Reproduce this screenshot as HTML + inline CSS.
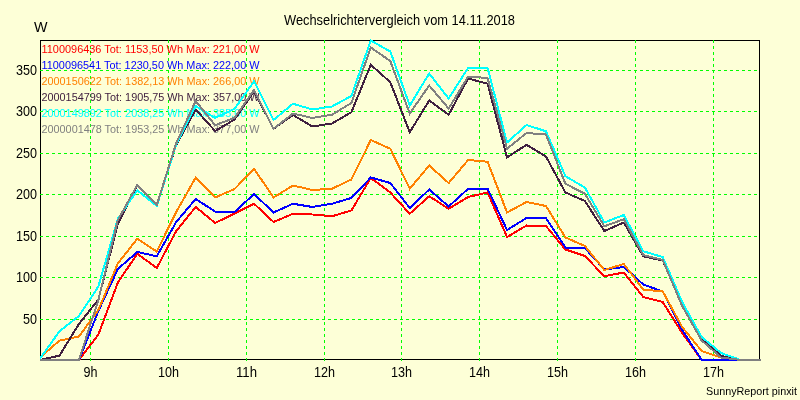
<!DOCTYPE html>
<html><head><meta charset="utf-8"><style>
html,body{margin:0;padding:0;background:#fdffd7;width:800px;height:400px;overflow:hidden}
svg{display:block;will-change:transform}
text{font-family:"Liberation Sans",sans-serif}
</style></head><body>
<svg width="800" height="400" viewBox="0 0 800 400">
<rect x="0" y="0" width="800" height="400" fill="#fdffd7"/>
<g shape-rendering="crispEdges" fill="none" stroke="#000" stroke-width="1">
<path d="M40.5 40V360 M759.5 40V360 M40 40.5H760 M40 359.5H760"/>
</g>
<g shape-rendering="crispEdges" fill="none" stroke="#00ff00" stroke-width="1" stroke-dasharray="3 3">
<path d="M40 70.5H760"/>
<path d="M40 111.5H760"/>
<path d="M40 153.5H760"/>
<path d="M40 194.5H760"/>
<path d="M40 236.5H760"/>
<path d="M40 277.5H760"/>
<path d="M40 319.5H760"/>
<path d="M90.5 40V361"/>
<path d="M168.5 40V361"/>
<path d="M246.5 40V361"/>
<path d="M324.5 40V361"/>
<path d="M401.5 40V361"/>
<path d="M479.5 40V361"/>
<path d="M557.5 40V361"/>
<path d="M635.5 40V361"/>
<path d="M713.5 40V361"/>
</g>
<g font-family="Liberation Sans" font-size="11px">
<text x="41.5" y="53" fill="#ff0000" textLength="218" lengthAdjust="spacingAndGlyphs">1100096436 Tot: 1153,50 Wh Max: 221,00 W</text>
<text x="41.5" y="69" fill="#0000ff" textLength="218" lengthAdjust="spacingAndGlyphs">1100096541 Tot: 1230,50 Wh Max: 222,00 W</text>
<text x="41.5" y="85" fill="#ff8000" textLength="218" lengthAdjust="spacingAndGlyphs">2000150622 Tot: 1382,13 Wh Max: 266,00 W</text>
<text x="41.5" y="101" fill="#402040" textLength="218" lengthAdjust="spacingAndGlyphs">2000154799 Tot: 1905,75 Wh Max: 357,00 W</text>
<text x="41.5" y="117" fill="#00ffff" textLength="218" lengthAdjust="spacingAndGlyphs">2000149892 Tot: 2038,25 Wh Max: 385,00 W</text>
<text x="41.5" y="133" fill="#808080" textLength="218" lengthAdjust="spacingAndGlyphs">2000001478 Tot: 1953,25 Wh Max: 377,00 W</text>
</g>
<g fill="none" stroke-width="2" stroke-linejoin="miter" stroke-linecap="butt" shape-rendering="crispEdges">
<polyline stroke="#ff0000" points="40.00,360.00 59.46,360.00 78.92,360.00 98.38,334.50 117.84,282.50 137.30,253.75 156.76,268.00 176.22,231.00 195.68,207.00 215.14,223.00 234.60,213.50 254.06,203.75 273.52,222.00 292.98,213.75 312.44,214.50 331.90,216.25 351.36,210.50 370.82,178.00 390.28,192.50 409.74,213.75 429.20,196.25 448.66,208.75 468.12,197.00 487.58,192.50 507.04,237.00 526.50,225.50 545.96,226.00 565.42,249.50 584.88,256.00 604.34,276.25 623.80,272.50 643.26,297.00 662.72,302.00 682.18,333.00 701.64,360.00 721.10,360.00 740.56,360.00 761,360"/>
<polyline stroke="#0000ff" points="40.00,360.00 59.46,360.00 78.92,360.00 98.38,311.00 117.84,269.00 137.30,252.00 156.76,256.25 176.22,222.00 195.68,199.00 215.14,211.50 234.60,212.00 254.06,194.00 273.52,212.50 292.98,203.75 312.44,207.00 331.90,203.75 351.36,198.00 370.82,177.50 390.28,183.00 409.74,208.00 429.20,189.50 448.66,206.50 468.12,188.75 487.58,188.75 507.04,230.00 526.50,218.00 545.96,218.00 565.42,247.50 584.88,248.00 604.34,269.50 623.80,267.00 643.26,284.50 662.72,291.50 682.18,330.00 701.64,360.00 721.10,360.00 740.56,360.00 761,360"/>
<polyline stroke="#ff8000" points="40.00,357.50 59.46,340.60 78.92,336.50 98.38,310.00 117.84,263.50 137.30,238.75 156.76,251.50 176.22,212.00 195.68,177.60 215.14,197.50 234.60,189.00 254.06,168.75 273.52,197.50 292.98,185.50 312.44,190.00 331.90,188.75 351.36,179.50 370.82,140.00 390.28,148.75 409.74,188.75 429.20,165.50 448.66,183.00 468.12,160.00 487.58,161.75 507.04,212.50 526.50,202.00 545.96,206.00 565.42,237.50 584.88,246.00 604.34,270.00 623.80,264.00 643.26,289.50 662.72,291.50 682.18,327.00 701.64,351.00 721.10,357.50 740.56,360.00 761,360"/>
<polyline stroke="#402040" points="40.00,360.00 59.46,355.60 78.92,324.00 98.38,299.50 117.84,224.00 137.30,185.00 156.76,205.00 176.22,145.00 195.68,109.50 215.14,131.00 234.60,119.50 254.06,91.25 273.52,128.75 292.98,115.00 312.44,126.50 331.90,123.50 351.36,112.25 370.82,64.75 390.28,82.25 409.74,132.25 429.20,100.50 448.66,114.75 468.12,78.50 487.58,83.75 507.04,157.50 526.50,144.75 545.96,156.50 565.42,192.50 584.88,201.00 604.34,231.00 623.80,222.50 643.26,256.25 662.72,260.50 682.18,302.00 701.64,338.00 721.10,356.00 740.56,360.00 761,360"/>
<polyline stroke="#00ffff" points="40.00,358.75 59.46,331.25 78.92,316.00 98.38,286.50 117.84,218.75 137.30,190.25 156.76,206.00 176.22,144.50 195.68,106.00 215.14,118.00 234.60,108.75 254.06,81.25 273.52,120.00 292.98,103.75 312.44,109.50 331.90,106.50 351.36,96.00 370.82,40.50 390.28,51.50 409.74,105.50 429.20,73.50 448.66,98.50 468.12,68.00 487.58,68.00 507.04,142.50 526.50,125.00 545.96,131.25 565.42,176.25 584.88,187.50 604.34,222.50 623.80,215.00 643.26,251.25 662.72,257.00 682.18,302.00 701.64,337.00 721.10,353.00 740.56,360.00 761,360"/>
<polyline stroke="#808080" points="40.00,360.00 59.46,360.00 78.92,360.00 98.38,300.00 117.84,220.00 137.30,185.00 156.76,205.00 176.22,143.00 195.68,101.00 215.14,125.25 234.60,117.75 254.06,90.00 273.52,128.75 292.98,113.50 312.44,118.00 331.90,114.75 351.36,103.00 370.82,47.50 390.28,61.00 409.74,113.50 429.20,85.50 448.66,108.50 468.12,76.50 487.58,78.00 507.04,148.75 526.50,133.00 545.96,134.50 565.42,183.75 584.88,193.75 604.34,226.25 623.80,219.25 643.26,255.00 662.72,260.00 682.18,306.00 701.64,340.50 721.10,357.50 740.56,360.00 761,360"/>
</g>
<g font-family="Liberation Sans" font-size="14px" fill="#000">
<text x="284" y="24.5" textLength="231" lengthAdjust="spacingAndGlyphs">Wechselrichtervergleich vom 14.11.2018</text>
<text x="34" y="31.5" textLength="13.5" lengthAdjust="spacingAndGlyphs">W</text>
<text x="37" y="74.5" text-anchor="end" textLength="21" lengthAdjust="spacingAndGlyphs">350</text>
<text x="37" y="115.5" text-anchor="end" textLength="21" lengthAdjust="spacingAndGlyphs">300</text>
<text x="37" y="157.5" text-anchor="end" textLength="21" lengthAdjust="spacingAndGlyphs">250</text>
<text x="37" y="198.5" text-anchor="end" textLength="21" lengthAdjust="spacingAndGlyphs">200</text>
<text x="37" y="240.5" text-anchor="end" textLength="21" lengthAdjust="spacingAndGlyphs">150</text>
<text x="37" y="281.5" text-anchor="end" textLength="21" lengthAdjust="spacingAndGlyphs">100</text>
<text x="37" y="323.5" text-anchor="end" textLength="14" lengthAdjust="spacingAndGlyphs">50</text>
<text x="90.5" y="376.5" text-anchor="middle" textLength="14" lengthAdjust="spacingAndGlyphs">9h</text>
<text x="168.5" y="376.5" text-anchor="middle" textLength="21" lengthAdjust="spacingAndGlyphs">10h</text>
<text x="246.5" y="376.5" text-anchor="middle" textLength="21" lengthAdjust="spacingAndGlyphs">11h</text>
<text x="324.5" y="376.5" text-anchor="middle" textLength="21" lengthAdjust="spacingAndGlyphs">12h</text>
<text x="401.5" y="376.5" text-anchor="middle" textLength="21" lengthAdjust="spacingAndGlyphs">13h</text>
<text x="479.5" y="376.5" text-anchor="middle" textLength="21" lengthAdjust="spacingAndGlyphs">14h</text>
<text x="557.5" y="376.5" text-anchor="middle" textLength="21" lengthAdjust="spacingAndGlyphs">15h</text>
<text x="635.5" y="376.5" text-anchor="middle" textLength="21" lengthAdjust="spacingAndGlyphs">16h</text>
<text x="713.5" y="376.5" text-anchor="middle" textLength="21" lengthAdjust="spacingAndGlyphs">17h</text>
</g>
<text x="706" y="395" textLength="91" lengthAdjust="spacingAndGlyphs" font-family="Liberation Sans" font-size="11px" fill="#000">SunnyReport pinxit</text>
</svg>
</body></html>
